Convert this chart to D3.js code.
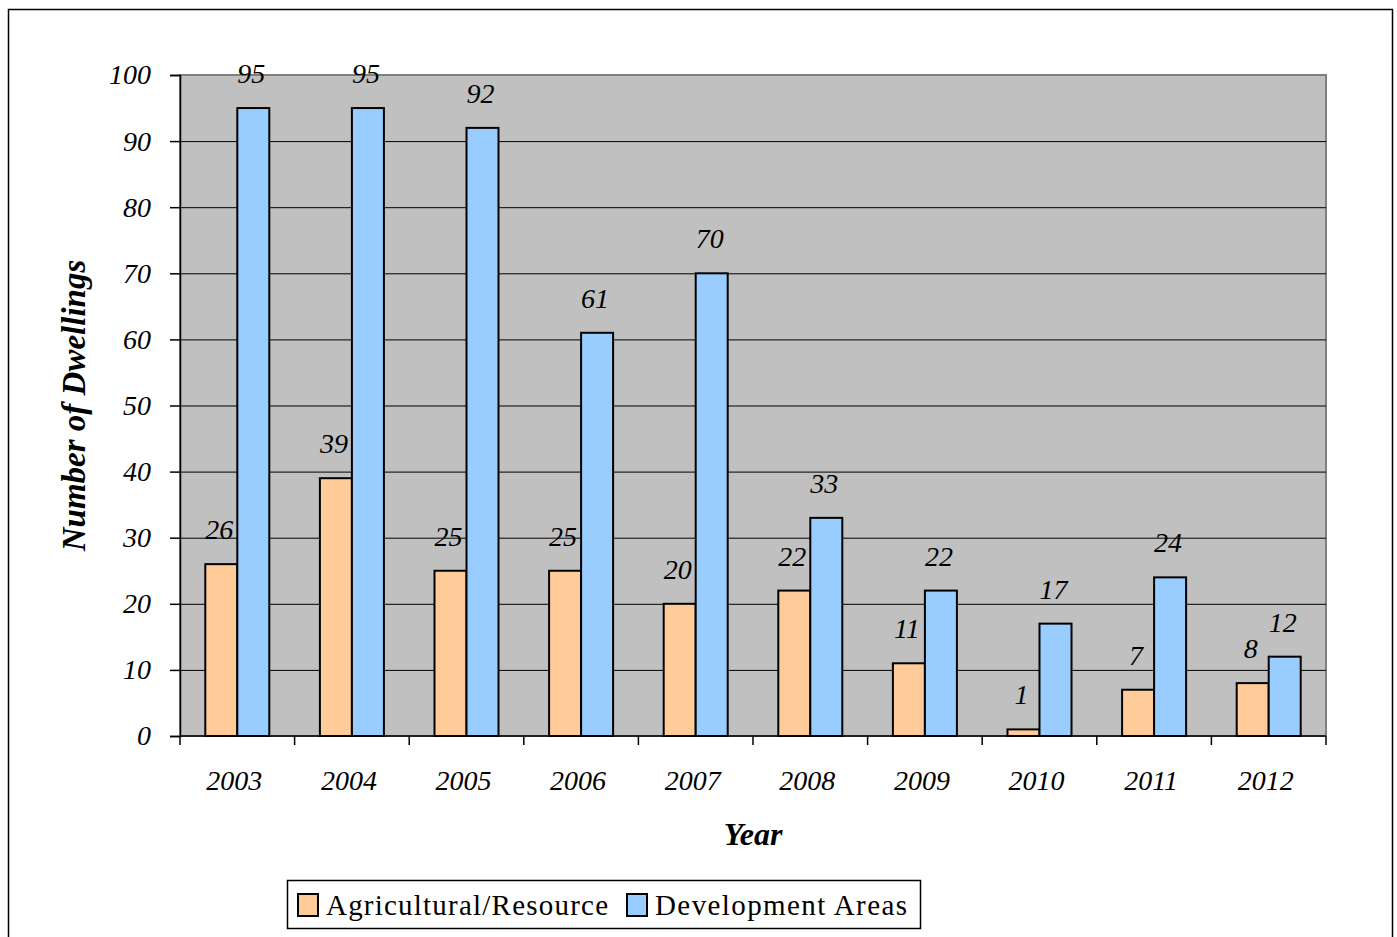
<!DOCTYPE html>
<html>
<head>
<meta charset="utf-8">
<script src="https://cdn.jsdelivr.net/npm/d3@7/dist/d3.min.js"></script>
<style>
  body { margin: 0; background: #fff; }
  svg text { font-family: "Liberation Serif", "Times New Roman", serif; }
</style>
</head>
<body>
<div id="chart"></div>
<script>
// Chart data.
var years = ["2003", "2004", "2005", "2006", "2007", "2008", "2009", "2010", "2011", "2012"];
var agricultural = [26, 39, 25, 25, 20, 22, 11, 1, 7, 8];
var development = [95, 95, 92, 61, 70, 33, 22, 17, 24, 12];
var seriesNames = ["Agricultural/Resource", "Development Areas"];
var seriesColors = ["#ffcc99", "#99ccff"];
var yTicks = [0, 10, 20, 30, 40, 50, 60, 70, 80, 90, 100];

var width = 1397,
    height = 937,
    plot = {left: 180, top: 75, right: 1326, bottom: 736};

var svg = d3.select("#chart").append("svg")
    .attr("width", width)
    .attr("height", height);

// Outer frame.
svg.append("rect")
    .attr("x", 8.5).attr("y", 9.5)
    .attr("width", 1384).attr("height", 940)
    .attr("fill", "none").attr("stroke", "#000").attr("stroke-width", 1.5);

var x = d3.scaleBand()
    .domain(years)
    .range([plot.left, plot.right]);

var y = d3.scaleLinear()
    .domain([0, 100])
    .range([plot.bottom, plot.top]);

// Plot background.
svg.append("rect")
    .attr("x", plot.left).attr("y", plot.top)
    .attr("width", plot.right - plot.left).attr("height", plot.bottom - plot.top)
    .attr("fill", "#c0c0c0")
    .attr("stroke", "#808080").attr("stroke-width", 2);

// Gridlines.
svg.append("g").selectAll("line")
    .data(yTicks.slice(1, -1))
    .join("line")
    .attr("x1", plot.left).attr("x2", plot.right)
    .attr("y1", function(d){ return y(d) + 0.5; })
    .attr("y2", function(d){ return y(d) + 0.5; })
    .attr("stroke", "#000").attr("stroke-width", 1);

// Y axis.
var yAxis = svg.append("g")
    .attr("transform", "translate(" + plot.left + ",0)")
    .call(d3.axisLeft(y).tickValues(yTicks).tickSize(10).tickPadding(19));
yAxis.select(".domain").attr("stroke", "#000").attr("stroke-width", 1.5);
yAxis.selectAll(".tick line").attr("stroke", "#000").attr("stroke-width", 1.5);
yAxis.selectAll("text")
    .attr("font-style", "italic")
    .attr("font-size", 28).attr("fill", "#000");

// X axis with ticks between categories.
var xAxisG = svg.append("g")
    .attr("transform", "translate(0," + plot.bottom + ")");
xAxisG.append("line")
    .attr("x1", plot.left).attr("x2", plot.right)
    .attr("stroke", "#000").attr("stroke-width", 1.5);
var boundaries = years.map(function(d){ return x(d); }).concat([plot.right]);
xAxisG.selectAll(".xtick")
    .data(boundaries)
    .join("line")
    .attr("class", "xtick")
    .attr("x1", function(d){ return d; }).attr("x2", function(d){ return d; })
    .attr("y1", 0).attr("y2", 9)
    .attr("stroke", "#000").attr("stroke-width", 1.5);
xAxisG.selectAll(".xlabel")
    .data(years)
    .join("text")
    .attr("class", "xlabel")
    .attr("x", function(d){ return x(d) + x.bandwidth() / 2 - 3; })
    .attr("y", 54)
    .attr("text-anchor", "middle")
    .attr("font-style", "italic").attr("font-size", 28)
    .text(function(d){ return d; });

// Bars.
var barWidth = 32;
var series = [agricultural, development];
series.forEach(function(values, s){
  var offset = s === 0 ? -barWidth : 0;
  var g = svg.append("g");
  g.selectAll("rect")
    .data(values)
    .join("rect")
    .attr("x", function(d, i){ return x(years[i]) + x.bandwidth() / 2 + offset; })
    .attr("y", function(d){ return y(d); })
    .attr("width", barWidth)
    .attr("height", function(d){ return y(0) - y(d); })
    .attr("fill", seriesColors[s])
    .attr("stroke", "#000").attr("stroke-width", 2);
  g.selectAll("text")
    .data(values)
    .join("text")
    .attr("x", function(d, i){ return x(years[i]) + x.bandwidth() / 2 + offset + barWidth / 2 - 2; })
    .attr("y", function(d){ return y(d) - 25; })
    .attr("text-anchor", "middle")
    .attr("font-style", "italic").attr("font-size", 28)
    .text(function(d){ return d; });
});

// Axis titles.
svg.append("text")
    .attr("transform", "translate(85," + ((plot.top + plot.bottom) / 2) + ") rotate(-90)")
    .attr("text-anchor", "middle")
    .attr("font-weight", "bold").attr("font-style", "italic").attr("font-size", 33)
    .text("Number of Dwellings");

svg.append("text")
    .attr("x", (plot.left + plot.right) / 2)
    .attr("y", 845)
    .attr("text-anchor", "middle")
    .attr("font-weight", "bold").attr("font-style", "italic").attr("font-size", 32)
    .text("Year");

// Legend.
var legend = svg.append("g");
legend.append("rect")
    .attr("x", 287.5).attr("y", 880.5).attr("width", 633).attr("height", 48)
    .attr("fill", "#fff").attr("stroke", "#000").attr("stroke-width", 1.5);
var legendX = [298, 627];
seriesNames.forEach(function(name, i){
  legend.append("rect")
    .attr("x", legendX[i]).attr("y", 894)
    .attr("width", 20).attr("height", 22)
    .attr("fill", seriesColors[i]).attr("stroke", "#000").attr("stroke-width", 2);
  legend.append("text")
    .attr("x", legendX[i] + 28).attr("y", 915)
    .attr("font-size", 29)
    .attr("textLength", i === 0 ? 282 : 252)
    .text(name);
});
</script>
</body>
</html>
